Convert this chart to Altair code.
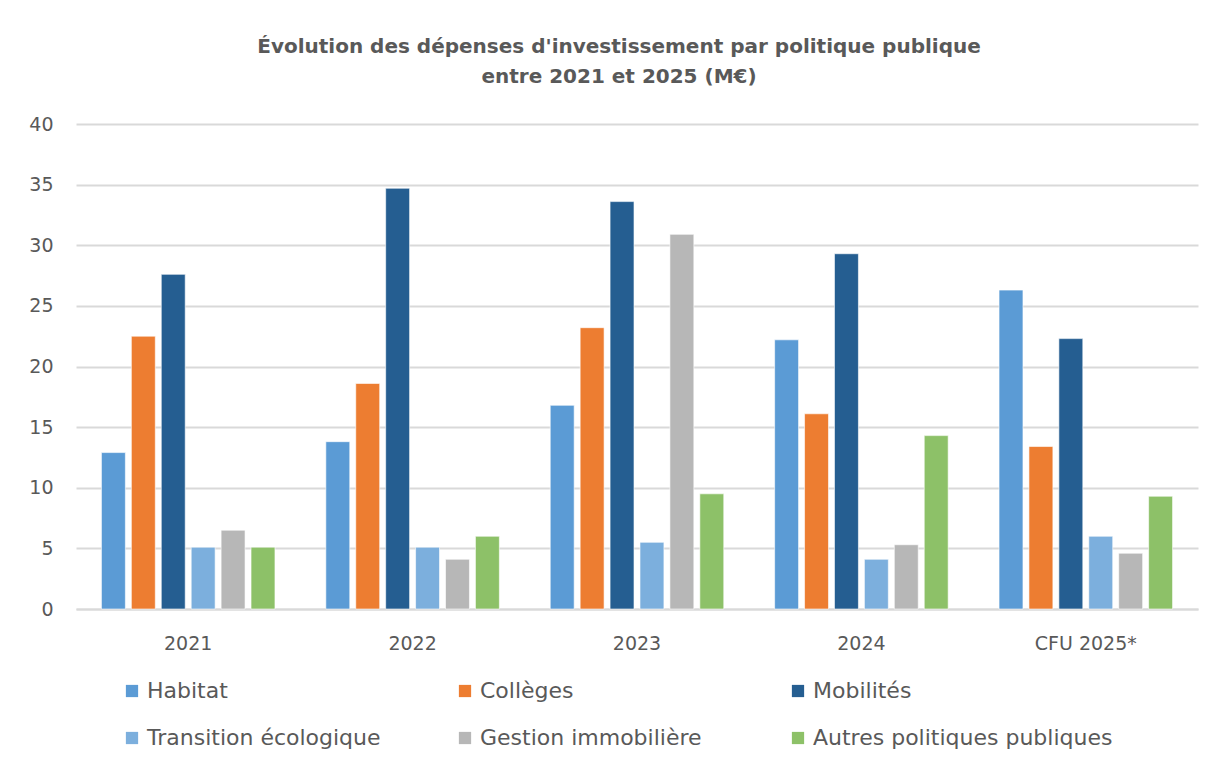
import altair as alt
import pandas as pd

years = ["2021", "2022", "2023", "2024", "CFU 2025*"]
series = ["Habitat", "Collèges", "Mobilités", "Transition écologique",
          "Gestion immobilière", "Autres politiques publiques"]
colors = ["#5B9BD5", "#ED7D31", "#255E91", "#7CAFDD", "#B7B7B7", "#8DC168"]

habitat = [12.9, 13.8, 16.8, 22.2, 26.3]
colleges = [22.5, 18.6, 23.2, 16.1, 13.4]
mobilites = [27.6, 34.7, 33.6, 29.3, 22.3]
transition = [5.1, 5.1, 5.5, 4.1, 6.0]
gestion = [6.5, 4.1, 30.9, 5.3, 4.6]
autres = [5.1, 6.0, 9.5, 14.3, 9.3]

values_by_series = [habitat, colleges, mobilites, transition, gestion, autres]
rows = []
for s, vals in zip(series, values_by_series):
    for y, v in zip(years, vals):
        rows.append({"annee": y, "politique": s, "valeur": v})
df = pd.DataFrame(rows)

FONT = "DejaVu Sans"
GREY = "#595959"

chart = alt.Chart(df).mark_bar(stroke="white", strokeWidth=1, strokeOpacity=0.6).encode(
    x=alt.X("annee:N", sort=years, title=None,
            scale=alt.Scale(paddingInner=0.2, paddingOuter=0.1),
            axis=alt.Axis(labelAngle=0, labelFontSize=19, labelColor=GREY, labelFont=FONT,
                          ticks=False, domainColor="#D9D9D9", domainWidth=2,
                          labelPadding=25, grid=False)),
    xOffset=alt.XOffset("politique:N", sort=series,
                        scale=alt.Scale(paddingInner=0.2, paddingOuter=0.1)),
    y=alt.Y("valeur:Q", title=None,
            scale=alt.Scale(domain=[0, 40], nice=False),
            axis=alt.Axis(values=[0, 5, 10, 15, 20, 25, 30, 35, 40], labelFontSize=19,
                          labelColor=GREY, labelFont=FONT, ticks=False, domain=False,
                          gridColor="#D9D9D9", gridWidth=2, labelPadding=23)),
    color=alt.Color("politique:N", sort=series,
                    scale=alt.Scale(domain=series, range=colors),
                    legend=alt.Legend(title=None, orient="none", legendX=45, legendY=556,
                                      direction="horizontal", columns=3, gridAlign="all",
                                      columnPadding=7, rowPadding=25, symbolType="square",
                                      symbolSize=150, symbolStrokeWidth=0, labelFontSize=22,
                                      labelFont=FONT, labelColor=GREY, labelOffset=4,
                                      labelLimit=400, padding=0)),
).properties(
    width=1122,
    height=485,
    title=alt.TitleParams(
        text=["Évolution des dépenses d'investissement par politique publique",
              "entre 2021 et 2025 (M€)"],
        anchor="middle", dx=-18, fontSize=20, fontWeight="bold", color=GREY,
        font=FONT, lineHeight=30, offset=28),
    autosize=alt.AutoSizeParams(type="none"),
    padding={"left": 68, "top": 116, "right": 20, "bottom": 140},
).configure(background="white").configure_view(stroke=None)

chart.save("out.html", embed_options={"renderer": "svg", "actions": False})
